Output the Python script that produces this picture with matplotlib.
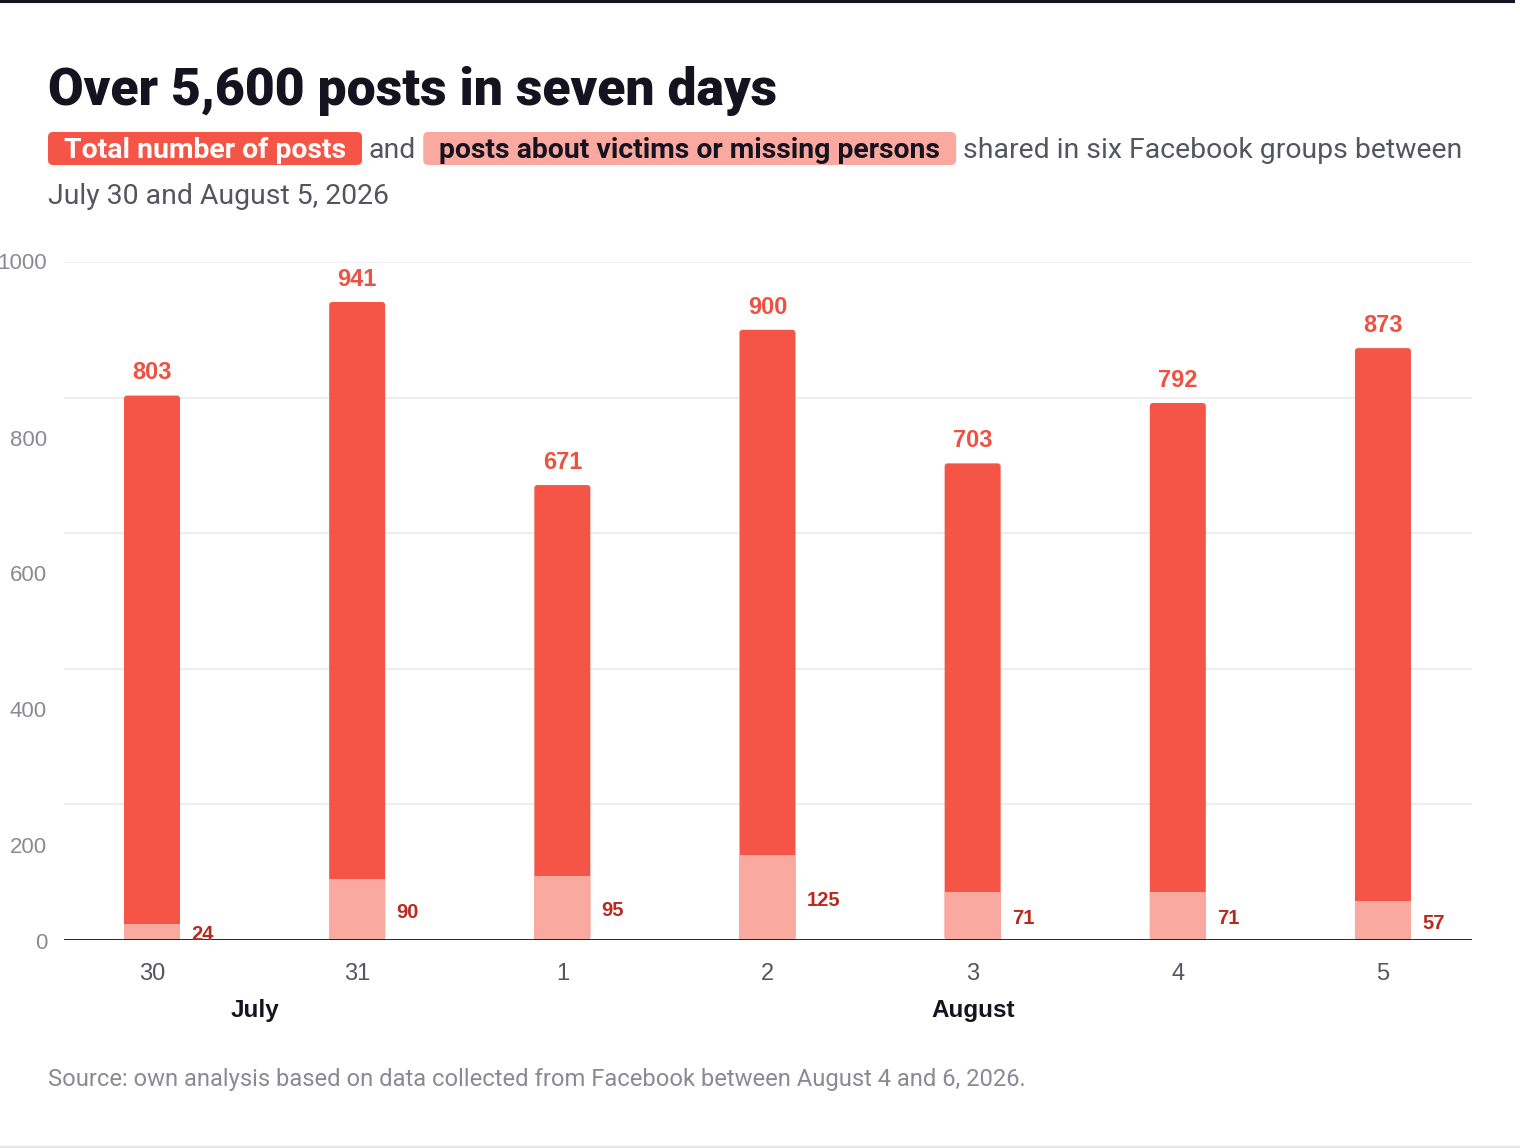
import matplotlib
matplotlib.use('Agg')
import matplotlib.pyplot as plt
from matplotlib.patches import FancyBboxPatch
from matplotlib.lines import Line2D
from matplotlib.transforms import blended_transform_factory

# ---- data ----
days = ['30', '31', '1', '2', '3', '4', '5']
total_posts = [803, 941, 671, 900, 703, 792, 873]
victim_posts = [24, 90, 95, 125, 71, 71, 57]
month_labels = ['July', 'August']
month_positions = [0.5, 4]
y_ticks = [0, 200, 400, 600, 800, 1000]

title = 'Over 5,600 posts in seven days'
sub_box1 = 'Total number of posts'
sub_and = 'and'
sub_box2 = 'posts about victims or missing persons'
sub_rest = 'shared in six Facebook groups between'
sub_line2 = 'July 30 and August 5, 2026'
source = 'Source: own analysis based on data collected from Facebook between August 4 and 6, 2026.'

# ---- style ----
RED = '#F55546'
PINK = '#F9A9A0'
DARKRED = '#B82A1F'
LABELRED = '#EE5141'
INK = '#15131F'
GREY = '#55555F'
LIGHTGREY = '#8A8A93'
HEAD = 'Roboto'
BODY = 'Liberation Sans'

W, H = 1520, 1148
fig = plt.figure(figsize=(W / 100, H / 100), dpi=100)
fig.patch.set_facecolor('white')
renderer = fig.canvas.get_renderer()


def fx(px):
    return px / W


def fy(py):
    return 1 - py / H


def wpx(t):
    return t.get_window_extent(renderer).width


def fit(t, target):
    fs = t.get_fontsize()
    t.set_fontsize(fs * target / wpx(t))


# ---- title ----
t = fig.text(fx(48), fy(105), title, fontsize=38, fontweight='heavy', family=HEAD,
             color=INK, va='baseline', ha='left')
fit(t, 730)

# ---- subtitle with highlighted boxes ----
base = 158
pad = 16
gap = 7


def box(x0, x1, color):
    r = 5
    p = FancyBboxPatch((fx(x0), fy(base + 7)), (x1 - x0) / W, 33 / H,
                       boxstyle=f'round,pad=0,rounding_size={r / W}',
                       mutation_aspect=W / H, transform=fig.transFigure,
                       fc=color, ec='none', zorder=1)
    fig.add_artist(p)
    return p


def layout(sfs):
    arts = []
    x = 48
    t1 = fig.text(fx(x + pad), fy(base), sub_box1, fontsize=sfs, fontweight='bold',
                  family=HEAD, color='white', va='baseline', ha='left', zorder=3)
    w = wpx(t1)
    arts += [t1, box(x, x + pad + w + pad, RED)]
    x = x + pad + w + pad + gap
    t2 = fig.text(fx(x), fy(base), sub_and, fontsize=sfs, family=HEAD, color=GREY,
                  va='baseline', ha='left')
    arts.append(t2)
    x = x + wpx(t2) + gap
    t3 = fig.text(fx(x + pad), fy(base), sub_box2, fontsize=sfs, fontweight='bold',
                  family=HEAD, color=INK, va='baseline', ha='left', zorder=3)
    w = wpx(t3)
    arts += [t3, box(x, x + pad + w + pad, PINK)]
    x = x + pad + w + pad + gap
    t4 = fig.text(fx(x), fy(base), sub_rest, fontsize=sfs, family=HEAD, color=GREY,
                  va='baseline', ha='left')
    arts.append(t4)
    end = x + wpx(t4)
    return arts, end


probe = fig.text(0, 0, sub_box1, fontsize=19, fontweight='bold', family=HEAD)
fit(probe, 285)
sfs = probe.get_fontsize()
probe.remove()
arts, end = layout(sfs)
if end > 1465:
    for a in arts:
        a.remove()
    fixed = 48 + 4 * pad + 3 * gap
    sfs = sfs * (1465 - fixed) / (end - fixed)
    arts, end = layout(sfs)

fig.text(fx(48), fy(204), sub_line2, fontsize=sfs, family=HEAD, color=GREY,
         va='baseline', ha='left')

# ---- axes ----
ax = fig.add_axes([fx(64), fy(940), (1472 - 64) / W, (940 - 262) / H])
ax.set_xlim(-0.429, 6.434)
ax.set_ylim(0, 1000)
for s in ax.spines.values():
    s.set_visible(False)
ax.set_yticks(y_ticks)
ax.set_yticklabels([])
ax.tick_params(axis='y', length=0)
ax.grid(axis='y', color='#EBEBEB', lw=1.2, zorder=0)
ax.set_axisbelow(True)
ax.axhline(0, color=INK, lw=2, zorder=5)

xs = list(range(len(days)))
bw = 0.273
bars = ax.bar(xs, total_posts, width=bw, color=RED, zorder=2)
# round top corners
for b in bars:
    b.set_visible(False)
    rs = 3 / 205.2
    p = FancyBboxPatch((b.get_x(), b.get_y()), b.get_width(), b.get_height(),
                       boxstyle=f'round,pad=0,rounding_size={rs}',
                       mutation_aspect=(1 / 0.678) / (1 / 205.2),
                       fc=RED, ec='none', zorder=2)
    ax.add_patch(p)
ax.bar(xs, victim_posts, width=bw, color=PINK, zorder=3)

for i, v in enumerate(total_posts):
    ax.annotate(f'{v}', (i, v), xytext=(0, 8), textcoords='offset points',
                ha='center', va='bottom', fontsize=17, fontweight='bold',
                family=BODY, color=LABELRED)
for i, v in enumerate(victim_posts):
    ax.annotate(f'{v}', (i + bw / 2, v / 2), xytext=(8, -2.2), textcoords='offset points',
                ha='left', va='center', fontsize=14.5, fontweight='bold',
                family=BODY, color=DARKRED, zorder=6)

# y labels (drawn as in the reference: inner labels sit below their gridline)
ytr = blended_transform_factory(fig.transFigure, ax.transData)
for v in y_ticks:
    off = -5 if v == 0 else (-2 if v == 1000 else -63)
    ax.text(fx(47), v + off, f'{v}', transform=ytr, ha='right', va='center',
            fontsize=16, family=BODY, color=LIGHTGREY)

ax.set_xticks(xs)
ax.set_xticklabels(days, fontsize=17, family=BODY, color='#55555F')
ax.tick_params(axis='x', length=0, pad=16.5)

mtr = blended_transform_factory(ax.transData, fig.transFigure)
for m, p in zip(month_labels, month_positions):
    ax.text(p, fy(1011), m, transform=mtr, ha='center', va='center', fontsize=17.5,
            fontweight='bold', family=BODY, color=INK)

# ---- source ----
st = fig.text(fx(48), fy(1086), source, fontsize=16, family=HEAD, color=LIGHTGREY,
              va='baseline', ha='left')
fit(st, 977)

# ---- frame lines ----
fig.add_artist(Line2D([0, fx(1513)], [fy(1), fy(1)], transform=fig.transFigure,
                      color=INK, lw=2.2))
fig.add_artist(Line2D([0, 1], [fy(1146.5), fy(1146.5)], transform=fig.transFigure,
                      color='#E6E6E6', lw=2.5))

fig.savefig('out.png', dpi=100, facecolor='white')
